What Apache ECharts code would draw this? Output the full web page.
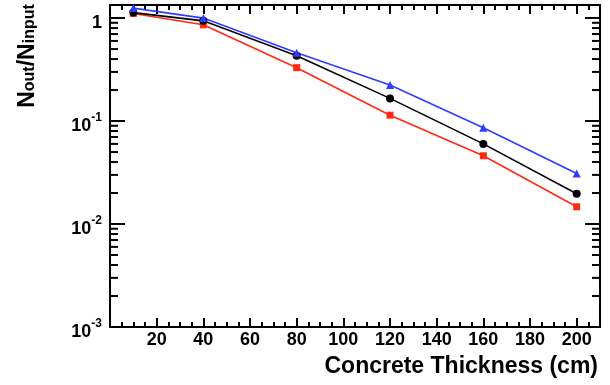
<!DOCTYPE html>
<html>
<head>
<meta charset="utf-8">
<script src="https://cdn.jsdelivr.net/npm/echarts@6/dist/echarts.min.js"></script>
<style>
html,body{margin:0;padding:0;background:#fff;}
#chart{width:610px;height:385px;}
</style>
</head>
<body>
<div id="chart"></div>
<script>
// ---- data ----
const thickness = [10, 40, 80, 120, 160, 200];
const blackValues = [1.13, 0.94, 0.43, 0.166, 0.060, 0.0197];
const redValues   = [1.11, 0.86, 0.33, 0.114, 0.046, 0.0147];
const blueValues  = [1.25, 1.00, 0.46, 0.224, 0.086, 0.031];
const xTickLabels = [20, 40, 60, 80, 100, 120, 140, 160, 180, 200];
const yTickLabels = [0.001, 0.01, 0.1, 1];
const yMinorTicks = [0.002,0.003,0.004,0.005,0.006,0.007,0.008,0.009,
                     0.02,0.03,0.04,0.05,0.06,0.07,0.08,0.09,
                     0.2,0.3,0.4,0.5,0.6,0.7,0.8,0.9];
const X_MIN = 0, X_MAX = 210, Y_MIN = 0.001, Y_MAX = 1.34;

const FONT = '"Liberation Sans", Arial, Helvetica, sans-serif';
const TICK = '#000';

function pairs(ys){ return thickness.map((x,i)=>[x, ys[i]]); }

const chart = echarts.init(document.getElementById('chart'));

function yLabel(v){
  const e = Math.round(Math.log10(v));
  if (Math.abs(Math.pow(10,e) - v) > 1e-9) return '';
  if (e === 0) return '{b|1}';
  return '{b|10}{s|' + e + '}';
}

const labelRich = {
  b: {fontSize: 18, fontWeight: 'bold', fontFamily: FONT, color: '#000', lineHeight: 18, padding: [5,0,0,0], verticalAlign: 'top'},
  s: {fontSize: 12, fontWeight: 'bold', fontFamily: FONT, color: '#000', lineHeight: 12, verticalAlign: 'top'}
};

function minorRender(side){
  return function(params, api){
    const v = api.value(1);
    const p = api.coord([side === 'left' ? X_MIN : X_MAX, v]);
    const d = side === 'left' ? 8 : -8;
    return {type: 'line', shape: {x1: p[0], y1: p[1], x2: p[0] + d, y2: p[1]},
            style: {stroke: TICK, lineWidth: 2}};
  };
}

const xa = {type:'value', min:X_MIN, max:X_MAX, interval:20,
  axisLine:{show:true,onZero:false,lineStyle:{color:'#000',width:2}},
  axisTick:{show:true,inside:true,length:9,lineStyle:{color:TICK,width:2}},
  minorTick:{show:true,splitNumber:4,length:5,lineStyle:{color:TICK,width:2}},
  splitLine:{show:false}};
const ya = {type:'log', min:Y_MIN, max:Y_MAX,
  axisLine:{show:true,onZero:false,lineStyle:{color:'#000',width:2}},
  axisTick:{show:true,inside:true,length:15,lineStyle:{color:TICK,width:2}},
  splitLine:{show:false}};

chart.setOption({
  animation: false,
  grid: {left: 110, right: 10, top: 5, bottom: 58},
  xAxis: [
    Object.assign({}, xa, {position: 'bottom',
      axisLabel: {showMinLabel: false, showMaxLabel: false, margin: 4,
        fontSize: 18, fontWeight: 'bold', fontFamily: FONT, color: '#000',
        formatter: v => (xTickLabels.indexOf(v) >= 0 ? String(v) : '')}}),
    Object.assign({}, xa, {position: 'top', axisLabel: {show: false}})
  ],
  yAxis: [
    Object.assign({}, ya, {position: 'left',
      axisLabel: {showMaxLabel: false, margin: 8, formatter: yLabel, rich: labelRich}}),
    Object.assign({}, ya, {position: 'right', axisLabel: {show: false}})
  ],
  graphic: [
    {type: 'text', right: 12, top: 355,
      style: {text: 'Concrete Thickness (cm)', font: 'bold 23px ' + FONT, fill: '#000'}},
    {type: 'text', x: 28, y: 56, rotation: Math.PI / 2,
      style: {
        text: '{N|N}{sub|out}{N|/N}{sub|input}',
        align: 'center', verticalAlign: 'middle',
        rich: {
          N: {fontSize: 23, fontWeight: 'bold', fontFamily: FONT, fill: '#000', lineHeight: 23, padding: [0,0,6,0], verticalAlign: 'top'},
          sub: {fontSize: 16, fontWeight: 'bold', fontFamily: FONT, fill: '#000', lineHeight: 16, padding: [0,0,2,0], verticalAlign: 'bottom'}
        }
      }}
  ],
  series: [
    {type: 'custom', xAxisIndex: 0, yAxisIndex: 0, silent: true,
      data: yMinorTicks.map(v => [X_MIN, v]), renderItem: minorRender('left')},
    {type: 'custom', xAxisIndex: 1, yAxisIndex: 1, silent: true,
      data: yMinorTicks.map(v => [X_MAX, v]), renderItem: minorRender('right')},
    {type: 'line', data: pairs(redValues), symbol: 'rect', symbolSize: 7,
      lineStyle: {color: '#ff2a12', width: 1.6}, itemStyle: {color: '#ff2a12'}},
    {type: 'line', data: pairs(blackValues), symbol: 'circle', symbolSize: 8,
      lineStyle: {color: '#000', width: 1.6}, itemStyle: {color: '#000'}},
    {type: 'line', data: pairs(blueValues), symbol: 'triangle', symbolSize: 8,
      lineStyle: {color: '#2f3cff', width: 1.6}, itemStyle: {color: '#2f3cff'}}
  ]
});
</script>
</body>
</html>
